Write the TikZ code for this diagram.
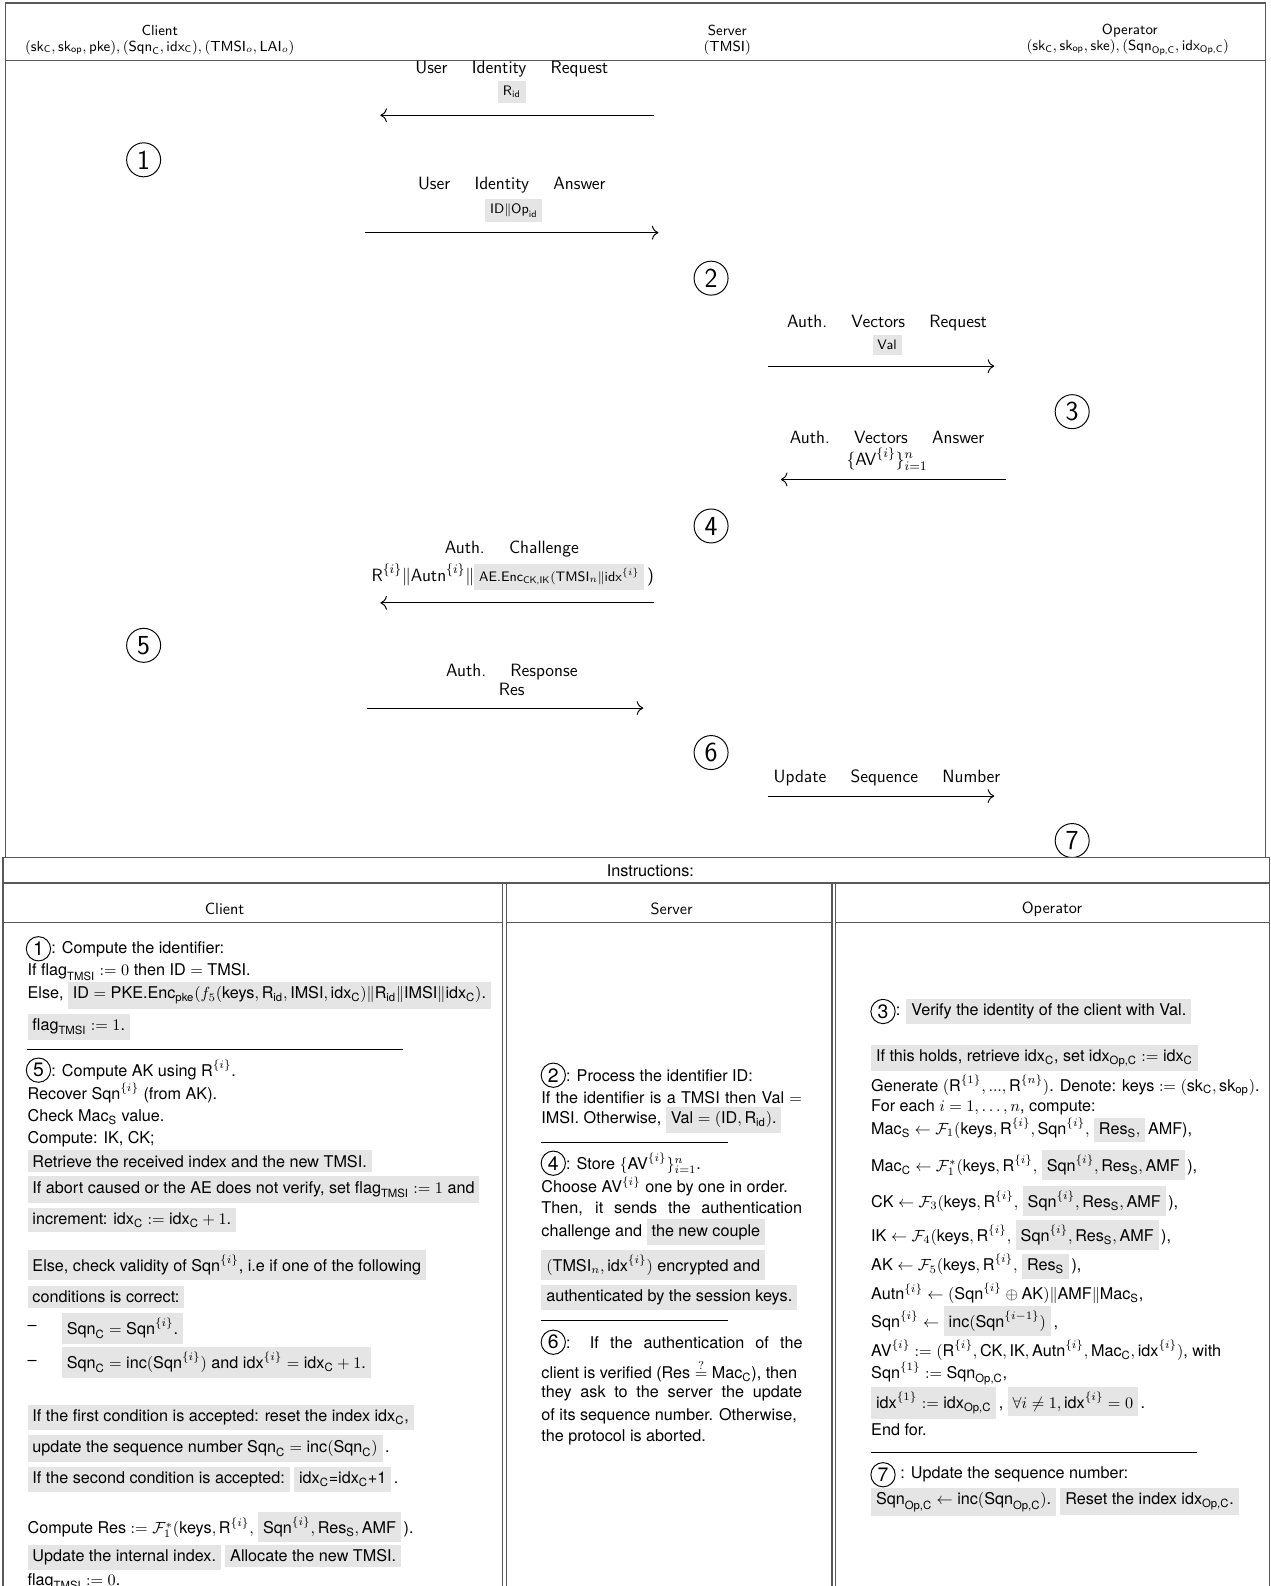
\documentclass[tikz,border=0pt]{standalone}
\usepackage{amsmath}
\usepackage{fontspec}
\newfontfamily\helv{TeX Gyre Heros}
\usetikzlibrary{positioning,arrows.meta}

\definecolor{hlgray}{gray}{0.9}
\definecolor{framegray}{gray}{0.35}

\newcommand\sv[1]{\text{#1}}
\newcommand\gbox[1]{{\fboxsep=3pt\colorbox{hlgray}{#1}}}
\newcommand\gsbox[1]{\gbox{\fontsize{8.5}{10}\selectfont #1}}
\newcommand\wsp{\hspace{15pt}}
\newcommand\vIdxC{\sv{idx}_{\sv{C}}}
\newcommand\vIdxOp{\sv{idx}_{\sv{Op,C}}}
\newcommand\vIdxI{\sv{idx}^{\{i\}}}
\newcommand\vSqnC{\sv{Sqn}_{\sv{C}}}
\newcommand\vSqnOp{\sv{Sqn}_{\sv{Op,C}}}
\newcommand\vSqnI{\sv{Sqn}^{\{i\}}}
\newcommand\vRI{\sv{R}^{\{i\}}}
\newcommand\vResS{\sv{Res}_{\sv{S}}}
\newcommand\vFlag{\sv{flag}_{\sv{TMSI}}}
\newcommand\vKeys{\sv{keys}}
\newcommand\vAVI{\sv{AV}^{\{i\}}}
\newcommand\vAutnI{\sv{Autn}^{\{i\}}}

\begin{document}
\begin{tikzpicture}[x=0.625pt, y=-0.625pt,
  frame/.style={draw=framegray, line width=0.7pt},
  hdr/.style={font=\sffamily\fontsize{9}{11}\selectfont, inner sep=0pt},
  colhdr/.style={font=\sffamily\fontsize{10}{12}\selectfont, inner sep=0pt},
  msglbl/.style={font=\sffamily\fontsize{11}{13}\selectfont, inner sep=0pt},
  bignum/.style={draw, circle, line width=0.6pt, font=\sffamily\fontsize{17}{17}\selectfont, inner sep=0pt, minimum size=21pt},
  numc/.style={draw, circle, line width=0.6pt, font=\helv\fontsize{12}{12}\selectfont, inner sep=0pt, minimum size=15pt},
  txt/.style={font=\helv\fontsize{10}{12}\selectfont, anchor=west, inner sep=0pt},
  msg/.style={-{Computer Modern Rightarrow[scale=1.4]}, line width=0.6pt},
  divline/.style={line width=0.5pt}]

\useasboundingbox (0,0) rectangle (1256,1568);
\clip (0,0) rectangle (1256,1568);

% protocol frame
\draw[frame] (5.6,3) rectangle (1251,848);
\draw[frame] (5.6,60) -- (1251,60);

\node[hdr] (hc) at (158,30) {Client};
\node[hdr] (hck) at (158,47) {$(\sv{sk}_{\sv{C}}, \sv{sk}_{\sv{op}}, \sv{pke}), (\vSqnC, \vIdxC), (\sv{TMSI}_o, \sv{LAI}_o)$};
\node[hdr] (hs) at (719,30) {Server};
\node[hdr] (hsk) at (719,47) {$(\sv{TMSI})$};
\node[hdr] (ho) at (1117,30) {Operator};
\node[hdr] (hok) at (1115,47) {$(\sv{sk}_{\sv{C}}, \sv{sk}_{\sv{op}}, \sv{ske}), (\vSqnOp, \vIdxOp)$};

% steps
\node[bignum] (s1) at (142,158) {1};
\node[bignum] (s2) at (703,275) {2};
\node[bignum] (s3) at (1060,407) {3};
\node[bignum] (s4) at (703,520) {4};
\node[bignum] (s5) at (142,638) {5};
\node[bignum] (s6) at (703,744) {6};
\node[bignum] (s7) at (1060,831) {7};

% messages
\node[msglbl] (l1) at (506,68) {User\wsp Identity\wsp Request};
\node[msglbl] (v1) at (506,91) {\gsbox{$\sv{R}_{\sv{id}}$}};
\coordinate (a1s) at (647,114);
\coordinate (a1e) at (376,114);
\draw[msg] (a1s) -- (a1e);

\node[msglbl] (l2) at (506,183) {User\wsp Identity\wsp Answer};
\node[msglbl] (v2) at (508,208) {\gsbox{$\sv{ID}\|\sv{Op}_{\sv{id}}$}};
\coordinate (a2s) at (361,230);
\coordinate (a2e) at (651,230);
\draw[msg] (a2s) -- (a2e);

\node[msglbl] (l3) at (877,319) {Auth.\wsp Vectors\wsp Request};
\node[msglbl] (v3) at (877,341) {\gsbox{Val}};
\coordinate (a3s) at (759,362);
\coordinate (a3e) at (983,362);
\draw[msg] (a3s) -- (a3e);

\node[msglbl] (l4) at (877,432) {Auth.\wsp Vectors\wsp Answer};
\node[msglbl] (v4) at (877,454) {$\{\vAVI\}_{i=1}^n$};
\coordinate (a4s) at (995,474);
\coordinate (a4e) at (772,474);
\draw[msg] (a4s) -- (a4e);

\node[msglbl] (l5) at (506,543) {Auth.\wsp Challenge};
\node[msglbl] (v5) at (507,570) {$\vRI\|\vAutnI\|$\gsbox{$\sv{AE.Enc}_{\sv{CK,IK}}(\sv{TMSI}_n\|\vIdxI$}\,)};
\coordinate (a5s) at (647,596);
\coordinate (a5e) at (376,596);
\draw[msg] (a5s) -- (a5e);

\node[msglbl] (l6) at (506,664) {Auth.\wsp Response};
\node[msglbl] (v6) at (506,682) {Res};
\coordinate (a6s) at (363,700);
\coordinate (a6e) at (636,700);
\draw[msg] (a6s) -- (a6e);

\node[msglbl] (l7) at (877,769) {Update\wsp Sequence\wsp Number};
\coordinate (a7s) at (759,787);
\coordinate (a7e) at (983,787);
\draw[msg] (a7s) -- (a7e);

% instructions table
\draw[frame] (3,1568) -- (3,848) -- (1255,848) -- (1255,1568);
\draw[frame] (3,873) -- (1255,873);
\draw[frame] (3,912) -- (497,912);
\draw[frame] (500.5,912) -- (822.5,912);
\draw[frame] (826,912) -- (1255,912);
\draw[frame] (497,873) -- (497,1568);
\draw[frame] (500.5,873) -- (500.5,1568);
\draw[frame] (822.5,873) -- (822.5,1568);
\draw[frame] (826,873) -- (826,1568);

\node[txt, anchor=center] (ins) at (643,861) {Instructions:};
\node[colhdr] (tc) at (222,899) {Client};
\node[colhdr] (ts) at (664,899) {Server};
\node[colhdr] (to) at (1040,899) {Operator};

% client column
\node[numc] (c1) at (38,938) {1};
\node[txt, right=0pt of c1] (c1t) {: Compute the identifier:};
\node[txt] (c2) at (27,961) {If $\vFlag := 0$ then $\sv{ID} = \sv{TMSI}$.};
\node[txt] (c3) at (27,984) {Else, \gbox{$\sv{ID} = \sv{PKE.Enc}_{\sv{pke}}(f_5(\vKeys, \sv{R}_{\sv{id}}, \sv{IMSI}, \vIdxC)\|\sv{R}_{\sv{id}}\|\sv{IMSI}\|\vIdxC)$.}};
\node[txt] (c4) at (27,1015) {\gbox{$\vFlag := 1$.}};
\draw[divline] (27,1037) -- (398,1037);
\node[numc] (c5) at (38,1058) {5};
\node[txt, right=0pt of c5] (c5t) {: Compute AK using $\vRI$.};
\node[txt] (c6) at (27,1081) {Recover $\vSqnI$ (from AK).};
\node[txt] (c7) at (27,1104) {Check $\sv{Mac}_{\sv{S}}$ value.};
\node[txt] (c8) at (27,1126) {Compute: IK, CK;};
\node[txt] (c9) at (27,1148) {\gbox{Retrieve the received index and the new TMSI.}};
\node[txt] (c10) at (27,1176) {\gbox{If abort caused or the AE does not verify, set $\vFlag := 1$ and}};
\node[txt] (c11) at (27,1206) {\gbox{increment: $\vIdxC := \vIdxC + 1$.}};
\node[txt] (c12) at (27,1251) {\gbox{Else, check validity of $\vSqnI$, i.e if one of the following}};
\node[txt] (c13) at (27,1282) {\gbox{conditions is correct:}};
\node[txt] (c14d) at (27,1313) {\textendash};
\node[txt] (c14) at (61,1313) {\gbox{$\vSqnC = \vSqnI$.}};
\node[txt] (c15d) at (27,1347) {\textendash};
\node[txt] (c15) at (61,1347) {\gbox{$\vSqnC = \sv{inc}(\vSqnI)$ and $\vIdxI = \vIdxC + 1$.}};
\node[txt] (c16) at (27,1401) {\gbox{If the first condition is accepted: reset the index $\vIdxC$,}};
\node[txt] (c17) at (27,1432) {\gbox{update the sequence number $\vSqnC = \sv{inc}(\vSqnC)$}\,.};
\node[txt] (c18) at (27,1463) {\gbox{If the second condition is accepted:} \gbox{idx$_{\sv{C}}$=idx$_{\sv{C}}$+1}\,.};
\node[txt] (c19) at (27,1510) {Compute $\sv{Res} := \mathcal{F}_1^*(\vKeys, \vRI,$ \gbox{$\vSqnI, \vResS, \sv{AMF}$}\,).};
\node[txt] (c20) at (27,1540) {\gbox{Update the internal index.} \gbox{Allocate the new TMSI.}};
\node[txt] (c21) at (27,1564) {$\vFlag := 0$.};

% server column
\node[numc] (e1) at (547,1063) {2};
\node[txt, right=0pt of e1] (e1t) {: Process the identifier ID:};
\node[txt] (e2) at (535,1085) {\makebox[161pt][s]{If the identifier is a TMSI then Val $=$}};
\node[txt] (e3) at (535,1107) {IMSI. Otherwise, \gbox{$\sv{Val} = (\sv{ID}, \sv{R}_{\sv{id}})$.}};
\draw[divline] (535,1129) -- (720,1129);
\node[numc] (e4) at (547,1150) {4};
\node[txt, right=0pt of e4] (e4t) {: Store $\{\vAVI\}_{i=1}^n$.};
\node[txt] (e5) at (535,1173) {Choose $\vAVI$ one by one in order.};
\node[txt] (e6) at (535,1195) {\makebox[161pt][s]{Then, it sends the authentication}};
\node[txt] (e7) at (535,1218) {challenge and \gbox{the new couple}};
\node[txt] (e8) at (535,1251) {\gbox{$(\sv{TMSI}_n, \vIdxI)$ encrypted and}};
\node[txt] (e9) at (535,1283) {\gbox{authenticated by the session keys.}};
\draw[divline] (535,1305) -- (720,1305);
\node[numc] (e10) at (547,1327) {6};
\node[txt, right=0pt of e10] (e10t) {\makebox[146pt][s]{: If the authentication of the}};
\node[txt] (e11) at (535,1355) {client is verified ($\sv{Res} \stackrel{?}{=} \sv{Mac}_{\sv{C}}$), then};
\node[txt] (e12) at (535,1378) {\makebox[161pt][s]{they ask to the server the update}};
\node[txt] (e13) at (535,1400) {of its sequence number. Otherwise,};
\node[txt] (e14) at (535,1421) {the protocol is aborted.};

% operator column
\node[numc] (o1) at (873,1000) {3};
\node[txt, right=0pt of o1] (o1t) {: \gbox{Verify the identity of the client with Val.}};
\node[txt] (o2) at (861,1046) {\gbox{If this holds, retrieve $\vIdxC$, set $\vIdxOp := \vIdxC$}};
\node[txt] (o3) at (861,1073) {Generate $(\sv{R}^{\{1\}}, ..., \sv{R}^{\{n\}})$. Denote: $\vKeys := (\sv{sk}_{\sv{C}}, \sv{sk}_{\sv{op}})$.};
\node[txt] (o4) at (861,1095) {For each $i = 1, \ldots, n$, compute:};
\node[txt] (o5) at (861,1117) {$\sv{Mac}_{\sv{S}} \leftarrow \mathcal{F}_1(\vKeys, \vRI, \vSqnI,$ \gbox{$\vResS,$}\,AMF),};
\node[txt] (o6) at (861,1152) {$\sv{Mac}_{\sv{C}} \leftarrow \mathcal{F}_1^*(\vKeys, \vRI,$ \gbox{$\vSqnI, \vResS, \sv{AMF}$}\,),};
\node[txt] (o7) at (861,1187) {$\sv{CK} \leftarrow \mathcal{F}_3(\vKeys, \vRI,$ \gbox{$\vSqnI, \vResS, \sv{AMF}$}\,),};
\node[txt] (o8) at (861,1221) {$\sv{IK} \leftarrow \mathcal{F}_4(\vKeys, \vRI,$ \gbox{$\vSqnI, \vResS, \sv{AMF}$}\,),};
\node[txt] (o9) at (861,1252) {$\sv{AK} \leftarrow \mathcal{F}_5(\vKeys, \vRI,$ \gbox{$\vResS$}\,),};
\node[txt] (o10) at (861,1279) {$\vAutnI \leftarrow (\vSqnI \oplus \sv{AK})\|\sv{AMF}\|\sv{Mac}_{\sv{S}}$,};
\node[txt] (o11) at (861,1306) {$\vSqnI \leftarrow$ \gbox{$\sv{inc}(\sv{Sqn}^{\{i-1\}})$}\,,};
\node[txt] (o12) at (861,1335) {$\vAVI := (\vRI, \sv{CK}, \sv{IK}, \vAutnI, \sv{Mac}_{\sv{C}}, \vIdxI)$, with};
\node[txt] (o13) at (861,1358) {$\sv{Sqn}^{\{1\}} := \vSqnOp$,};
\node[txt] (o14) at (861,1387) {\gbox{$\sv{idx}^{\{1\}} := \vIdxOp$}\,, \gbox{$\forall i \neq 1, \vIdxI = 0$}\,.};
\node[txt] (o15) at (861,1413) {End for.};
\draw[divline] (861,1436) -- (1183,1436);
\node[numc] (o16) at (873,1458) {7};
\node[txt, right=0pt of o16] (o16t) {\ : Update the sequence number:};
\node[txt] (o17) at (861,1485) {\gbox{$\vSqnOp \leftarrow \sv{inc}(\vSqnOp)$.} \gbox{Reset the index $\vIdxOp$.}};
\end{tikzpicture}
\end{document}
